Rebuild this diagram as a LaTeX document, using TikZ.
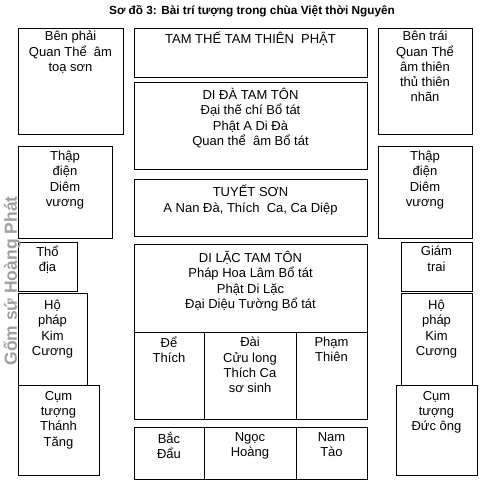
\documentclass[tikz,border=0pt]{standalone}
\usepackage{fontspec}
\setmainfont{Liberation Sans}

\begin{document}
\begin{tikzpicture}[x=1pt,y=-1pt,
  cell/.style={draw, line width=0.9pt},
  txt/.style={anchor=north, align=center, inner sep=0pt,
    font=\fontsize{13}{15.3}\selectfont,
    execute at begin node={\rule{0pt}{12.5pt}}}]
\useasboundingbox (0,0) rectangle (494,484);
\node[anchor=base, inner sep=0pt, font=\bfseries\fontsize{11.8}{14}\selectfont] (title) at (252,15)
  {Sơ đồ 3: Bài trí tượng trong chùa Việt thời Nguyên};

% left column
\draw[cell] (18,28) rectangle (123,134);
\draw[cell] (18,146) rectangle (112,238);
\draw[cell] (18,242) rectangle (77,291);
\draw[cell] (18,293) rectangle (87,385);
\draw[cell] (18,385) rectangle (99,475);
\node[txt] (benphai) at (70.5,31) {Bên phải\\Quan Thể~ âm\\toạ sơn};
\node[txt] (thapdienL) at (65,151) {Thập\\điện\\Diêm\\vương};
\node[txt] (thodia) at (47.5,246) {Thổ\\địa};
\node[txt] (hophapL) at (52.5,300) {Hộ\\pháp\\Kim\\Cương};
\node[txt] (thanhtang) at (58.5,391) {Cụm\\tượng\\Thánh\\Tăng};

% middle column
\draw[cell] (134,28) rectangle (367,77);
\draw[cell] (134,82) rectangle (367,169);
\draw[cell] (134,179) rectangle (367,236);
\draw[cell] (134,244) rectangle (367,332);
\draw[cell] (134,332) rectangle (204,419);
\draw[cell] (204,332) rectangle (296,419);
\draw[cell] (296,332) rectangle (367,419);
\draw[cell] (134,427) rectangle (204,479);
\draw[cell] (204,427) rectangle (296,479);
\draw[cell] (296,427) rectangle (367,479);
\node[txt] (tamthe) at (250.5,31) {TAM THẾ TAM THIÊN~ PHẬT};
\node[txt] (dida) at (250.5,88) {DI ĐÀ TAM TÔN\\Đại thế chí Bổ tát\\Phật A Di Đà\\Quan thể~ âm Bổ tát};
\node[txt] (tuyetson) at (250.5,185) {TUYẾT SƠN\\A Nan Đà, Thích~ Ca, Ca Diệp};
\node[txt] (dilac) at (250.5,251) {DI LẶC TAM TÔN\\Pháp Hoa Lâm Bổ tát\\Phật Di Lặc\\Đại Diệu Tường Bổ tát};
\node[txt] (dethich) at (169,337) {Để\\Thích};
\node[txt] (cuulong) at (250,337) {Đài\\Cửu long\\Thích Ca\\sơ sinh};
\node[txt] (phamthien) at (331.5,337) {Phạm\\Thiên};
\node[txt] (bacdau) at (169,432) {Bắc\\Đẩu};
\node[txt] (ngochoang) at (250,432) {Ngọc\\Hoàng};
\node[txt] (namtao) at (331.5,432) {Nam\\Tào};

% right column
\draw[cell] (378,28) rectangle (472,134);
\draw[cell] (378,146) rectangle (472,238);
\draw[cell] (401,242) rectangle (472,291);
\draw[cell] (401,293) rectangle (472,385);
\draw[cell] (396,385) rectangle (477,475);
\node[txt] (bentrai) at (425,31) {Bên trái\\Quan Thể\\âm thiên\\thủ thiên\\nhãn};
\node[txt] (thapdienR) at (425,151) {Thập\\điện\\Diêm\\vương};
\node[txt] (giamtrai) at (436.5,246) {Giám\\trai};
\node[txt] (hophapR) at (436.5,300) {Hộ\\pháp\\Kim\\Cương};
\node[txt] (ducong) at (436.5,391) {Cụm\\tượng\\Đức ông};

% watermark
\node[rotate=90, inner sep=0pt, text=gray!75, font=\bfseries\fontsize{17.5}{18}\selectfont] (watermark) at (12,281)
  {Gốm sứ Hoàng Phát};
\end{tikzpicture}
\end{document}
